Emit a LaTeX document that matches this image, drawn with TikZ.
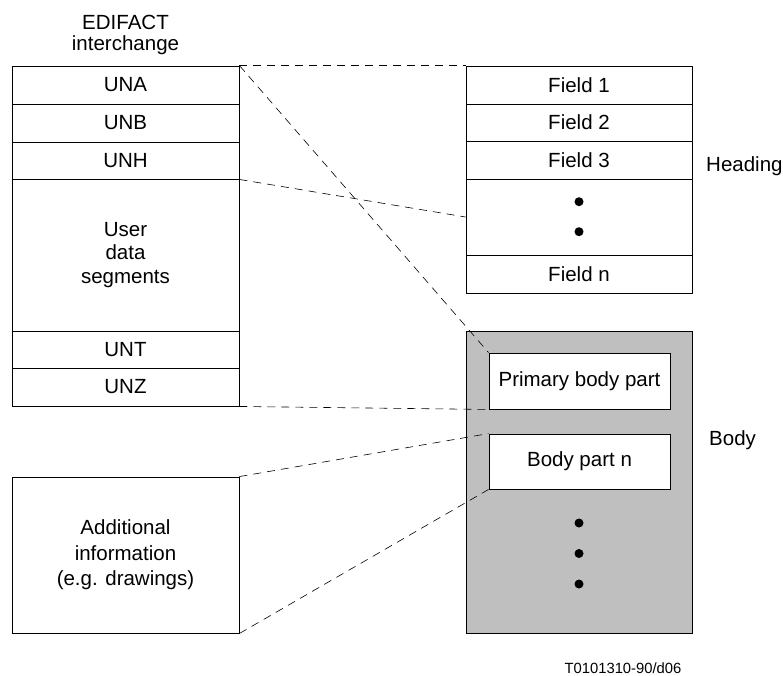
\documentclass[tikz,border=0pt]{standalone}
\usepackage{fontspec}
\setmainfont{Liberation Sans}
\begin{document}
\begin{tikzpicture}[x=1pt,y=-1pt,
  box/.style={draw=black,line width=0.9pt,rectangle,inner sep=0pt,align=center,
    font=\fontsize{20.5}{23.5}\selectfont},
  lbl/.style={inner sep=0pt,anchor=west,font=\fontsize{20.5}{23.5}\selectfont},
  dotmark/.style={circle,fill=black,inner sep=0pt,minimum size=9pt},
  conn/.style={draw=black,line width=0.6pt,dash pattern=on 8pt off 6pt}]
\useasboundingbox (0,0) rectangle (783,675);
% title
\node[inner sep=0pt,align=center,font=\fontsize{20.5}{21}\selectfont] (title) at (125.5,35) {EDIFACT\\interchange};
% left stack
\node[box,minimum width=227pt,minimum height=38pt] (una) at (125.5,85) {UNA};
\node[box,minimum width=227pt,minimum height=38pt] (unb) at (125.5,123) {UNB};
\node[box,minimum width=227pt,minimum height=37pt] (unh) at (125.5,160.5) {UNH};
\node[box,minimum width=227pt,minimum height=152pt] (uds) at (125.5,255) {User\\data\\segments};
\node[box,minimum width=227pt,minimum height=37pt] (unt) at (125.5,349.5) {UNT};
\node[box,minimum width=227pt,minimum height=38pt] (unz) at (125.5,387) {UNZ};
% additional information
\node[box,minimum width=227pt,minimum height=156pt,font=\fontsize{20.5}{25.5}\selectfont] (add) at (125.5,555) {Additional\\information\\(e.g. drawings)};
% heading stack
\node[box,minimum width=226pt,minimum height=38pt] (f1) at (579,85) {Field 1};
\node[box,minimum width=226pt,minimum height=37pt] (f2) at (579,122.5) {Field 2};
\node[box,minimum width=226pt,minimum height=38pt] (f3) at (579,160) {Field 3};
\node[box,minimum width=226pt,minimum height=76pt] (fdots) at (579,217) {};
\node[box,minimum width=226pt,minimum height=38pt] (fn) at (579,274) {Field n};
\node[dotmark] (hd1) at (579,201.7) {};
\node[dotmark] (hd2) at (579,231.7) {};
\node[lbl] (heading) at (706,166) {Heading};
% body
\node[box,fill=black!25,minimum width=226pt,minimum height=302pt] (body) at (579,482) {};
\node[box,fill=white,minimum width=181pt,minimum height=56pt] (prim) at (579.5,381) {Primary body part};
\node[box,fill=white,minimum width=181pt,minimum height=55pt] (bpn) at (579.5,461.5) {Body part n};
\node[dotmark] (bd1) at (579,523) {};
\node[dotmark] (bd2) at (579,553.5) {};
\node[dotmark] (bd3) at (579,584) {};
\node[lbl] (bodylbl) at (709,440) {Body};
% connectors
\draw[conn] (una.north east) -- (f1.north west);
\draw[conn] (una.north east) -- (prim.north west);
\draw[conn] (unh.south east) -- (fdots.west);
\draw[conn] (unz.south east) -- (prim.south west);
\draw[conn] (add.north east) -- (bpn.north west);
\draw[conn] (add.south east) -- (bpn.south west);
% footer
\node[inner sep=0pt,font=\fontsize{14.8}{16}\selectfont] (ref) at (623,668) {T0101310-90/d06};
\end{tikzpicture}
\end{document}
